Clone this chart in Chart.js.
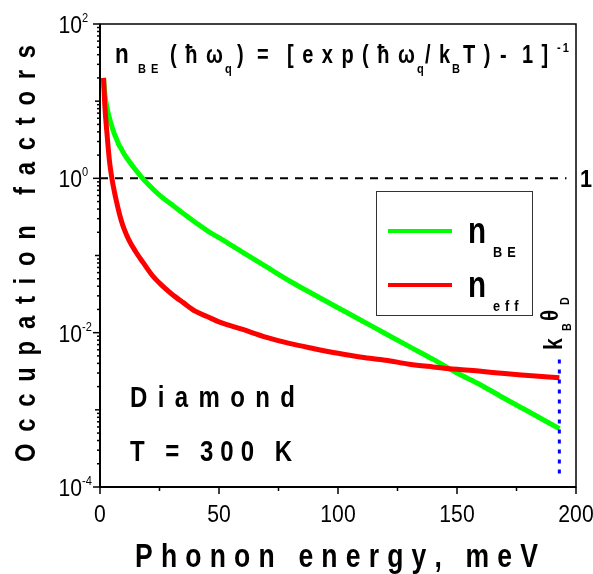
<!DOCTYPE html>
<html>
<head>
<meta charset="utf-8">
<script src="https://cdn.jsdelivr.net/npm/chart.js@4.4.1/dist/chart.umd.min.js"></script>
<style>
  html, body { margin: 0; padding: 0; background: #fff; }
  canvas { display: block; }
</style>
</head>
<body>
<canvas id="occChart" width="593" height="574"></canvas>
<script>
// values (phonon energy in meV)
const energies = [1.5, 2, 3, 4, 5, 6, 7, 8, 9, 10, 12, 15, 18, 22, 26, 30, 35, 40, 45, 50, 60, 70, 80, 90, 100, 110, 120, 130, 140, 150, 160, 170, 180, 193];
const nBE = [20, 12.5, 8.1, 6.0, 4.7, 3.8, 3.2, 2.7, 2.4, 2.1, 1.7, 1.28, 0.99, 0.74, 0.57, 0.46, 0.35, 0.27, 0.21, 0.17, 0.11, 0.071, 0.046, 0.031, 0.021, 0.0143, 0.0097, 0.0066, 0.0045, 0.0030, 0.0021, 0.0014, 0.00095, 0.00057];
const nEff = [20, 9, 3.6, 1.65, 1.0, 0.68, 0.49, 0.363, 0.28, 0.226, 0.162, 0.112, 0.082, 0.055, 0.041, 0.032, 0.0245, 0.019, 0.0162, 0.0138, 0.011, 0.0087, 0.0072, 0.0062, 0.0054, 0.0048, 0.0044, 0.0039, 0.0036, 0.00335, 0.00316, 0.00295, 0.00279, 0.0026];
const unityLine = { x: [0, 196], y: [1, 1] };
const debyeLine = { x: [193, 193], y: [0.00015, 0.0048] };
const xTicksMajor = [0, 50, 100, 150, 200];
const xTicksMinor = [25, 75, 125, 175];
const yExponents = [-4, -3, -2, -1, 0, 1, 2];
const yLabelExponents = [-4, -2, 0, 2];

const FONT = '"Liberation Sans", Arial, sans-serif';
const ctx = document.getElementById("occChart");

function pts(xs, ys) {
  return xs.map((x, i) => ({ x: x, y: ys[i] }));
}

// draws text char by char so letters can be spaced and narrowed
function spaced(c, text, x, y, o) {
  c.save();
  c.font = (o.bold ? "bold " : "") + o.size + "px " + FONT;
  const chars = Array.from(text);
  const sx = o.sx || 1;
  const w = chars.map((ch) => c.measureText(ch).width * sx);
  const sum = w.reduce((a, b) => a + b, 0);
  let ls = o.ls || 0;
  if (o.width) ls = (o.width - sum) / Math.max(1, chars.length - 1);
  const total = sum + ls * (chars.length - 1);
  c.translate(x, y);
  if (o.rot) c.rotate(o.rot);
  let cx = o.align === "center" ? -total / 2 : o.align === "right" ? -total : 0;
  c.textAlign = "left";
  c.textBaseline = "alphabetic";
  c.fillStyle = o.color || "#000";
  chars.forEach((ch, i) => {
    c.save();
    c.translate(cx, 0);
    c.scale(sx, 1);
    c.fillText(ch, 0, 0);
    c.restore();
    cx += w[i] + ls;
  });
  c.restore();
  return total;
}

const decor = {
  id: "decor",
  afterDatasetsDraw(chart) {
    const c = chart.ctx;
    const a = chart.chartArea;
    const xs = chart.scales.x;
    const ys = chart.scales.y;
    c.save();
    c.strokeStyle = "#000";

    // frame
    c.lineWidth = 1.5;
    c.strokeRect(a.left, a.top, a.right - a.left, a.bottom - a.top);
    c.lineWidth = 2;
    c.beginPath();
    c.moveTo(a.left, a.top);
    c.lineTo(a.left, a.bottom);
    c.lineTo(a.right, a.bottom);
    c.stroke();

    // x ticks
    c.lineWidth = 1.5;
    xTicksMajor.forEach((v) => {
      const px = xs.getPixelForValue(v);
      c.beginPath(); c.moveTo(px, a.bottom); c.lineTo(px, a.bottom + 7); c.stroke();
    });
    xTicksMinor.forEach((v) => {
      const px = xs.getPixelForValue(v);
      c.beginPath(); c.moveTo(px, a.bottom); c.lineTo(px, a.bottom + 4); c.stroke();
    });
    // y ticks
    yExponents.forEach((e) => {
      const py = ys.getPixelForValue(Math.pow(10, e));
      const len = yLabelExponents.includes(e) ? 7 : 5;
      c.beginPath(); c.moveTo(a.left, py); c.lineTo(a.left - len, py); c.stroke();
      if (e < 2) {
        for (let m = 2; m <= 9; m++) {
          const pm = ys.getPixelForValue(m * Math.pow(10, e));
          c.beginPath(); c.moveTo(a.left, pm); c.lineTo(a.left - 3, pm); c.stroke();
        }
      }
    });

    // tick labels
    xTicksMajor.forEach((v) => {
      spaced(c, String(v), xs.getPixelForValue(v), a.bottom + 35, { size: 23, sx: 0.92, align: "center" });
    });
    yLabelExponents.forEach((e) => {
      const py = ys.getPixelForValue(Math.pow(10, e));
      spaced(c, "10", a.left - 18, py + 9, { size: 23, sx: 0.92, align: "right" });
      spaced(c, String(e), a.left - 18, py - 2, { size: 12, sx: 0.92 });
    });

    // axis titles
    spaced(c, "Phonon energy, meV", 135, 567, { size: 34, bold: true, sx: 0.78, width: 403 });
    spaced(c, "Occupation factors", 35, 462, { size: 29, bold: true, sx: 0.82, width: 417, rot: -Math.PI / 2 });

    // formula
    const big = { size: 28, bold: true, sx: 0.8 };
    const main = { size: 25, bold: true, sx: 0.8, ls: 8.5 };
    const sub = { size: 13, bold: true, sx: 0.85, ls: 5 };
    spaced(c, "n", 115, 63, big);
    spaced(c, "BE", 138, 73, sub);
    spaced(c, "(ħω", 170, 63, main);
    spaced(c, "q", 225, 73, sub);
    spaced(c, ")", 237, 63, main);
    spaced(c, "=", 257, 63, main);
    spaced(c, "[exp(ħω", 287, 63, main);
    spaced(c, "q", 417, 73, sub);
    spaced(c, "/k", 425, 63, main);
    spaced(c, "B", 452, 73, sub);
    spaced(c, "T)", 463, 63, main);
    spaced(c, "-", 500, 63, main);
    spaced(c, "1]", 522, 63, main);
    spaced(c, "-1", 557, 52, { size: 13, bold: true, sx: 0.85, ls: 2 });

    // labels in plot
    spaced(c, "Diamond", 130, 407, { size: 30, bold: true, sx: 0.8, width: 165 });
    spaced(c, "T = 300 K", 130, 461, { size: 30, bold: true, sx: 0.8, width: 162 });
    spaced(c, "1", a.right + 4, 187, { size: 24, bold: true, sx: 0.9 });

    // k_B theta_D, rotated
    const r = -Math.PI / 2;
    spaced(c, "k", 562, 350, { size: 25, bold: true, sx: 0.85, rot: r });
    spaced(c, "B", 571, 331, { size: 12, bold: true, sx: 0.9, rot: r });
    spaced(c, "θ", 558, 321, { size: 24, bold: true, sx: 0.85, rot: r });
    spaced(c, "D", 569, 305, { size: 12, bold: true, sx: 0.9, rot: r });

    // legend
    c.lineWidth = 1;
    c.strokeStyle = "#333";
    c.strokeRect(376.5, 191.5, 156, 124);
    const ds = chart.data.datasets;
    [[ds[0], 231, "BE", 243], [ds[1], 285, "eff", 297]].forEach(([d, ly, s, by]) => {
      c.strokeStyle = d.borderColor;
      c.lineWidth = 4;
      c.beginPath(); c.moveTo(388, ly); c.lineTo(452, ly); c.stroke();
      spaced(c, "n", 468, by, { size: 37, bold: true, sx: 0.8 });
      spaced(c, s, 493, by + 14, { size: 15, bold: true, sx: 0.85, ls: 5 });
    });
    c.restore();
  },
};

new Chart(ctx, {
  type: "line",
  data: {
    datasets: [
      {
        label: "n BE",
        data: pts(energies, nBE),
        borderColor: "#00ff00",
        borderWidth: 5,
        cubicInterpolationMode: "monotone",
        pointRadius: 0,
        order: 2,
      },
      {
        label: "n eff",
        data: pts(energies, nEff),
        borderColor: "#ff0000",
        borderWidth: 5,
        cubicInterpolationMode: "monotone",
        pointRadius: 0,
        order: 1,
      },
      {
        label: "unity",
        data: pts(unityLine.x, unityLine.y),
        borderColor: "#000",
        borderWidth: 2,
        borderDash: [8, 7],
        pointRadius: 0,
        order: 3,
      },
      {
        label: "kB thetaD",
        data: pts(debyeLine.x, debyeLine.y),
        borderColor: "#0000ff",
        borderWidth: 3,
        borderDash: [4, 6],
        pointRadius: 0,
        order: 0,
      },
    ],
  },
  options: {
    responsive: false,
    animation: false,
    layout: { padding: { top: 24, right: 17, left: 0, bottom: 0 } },
    plugins: { legend: { display: false }, tooltip: { enabled: false } },
    scales: {
      x: {
        type: "linear",
        min: 0,
        max: 200,
        ticks: { display: false },
        grid: { display: false },
        border: { display: false },
        afterFit: (s) => { s.height = 87; },
      },
      y: {
        type: "logarithmic",
        min: 1e-4,
        max: 100,
        ticks: { display: false },
        grid: { display: false },
        border: { display: false },
        afterFit: (s) => { s.width = 100; },
      },
    },
  },
  plugins: [decor],
});
</script>
</body>
</html>
